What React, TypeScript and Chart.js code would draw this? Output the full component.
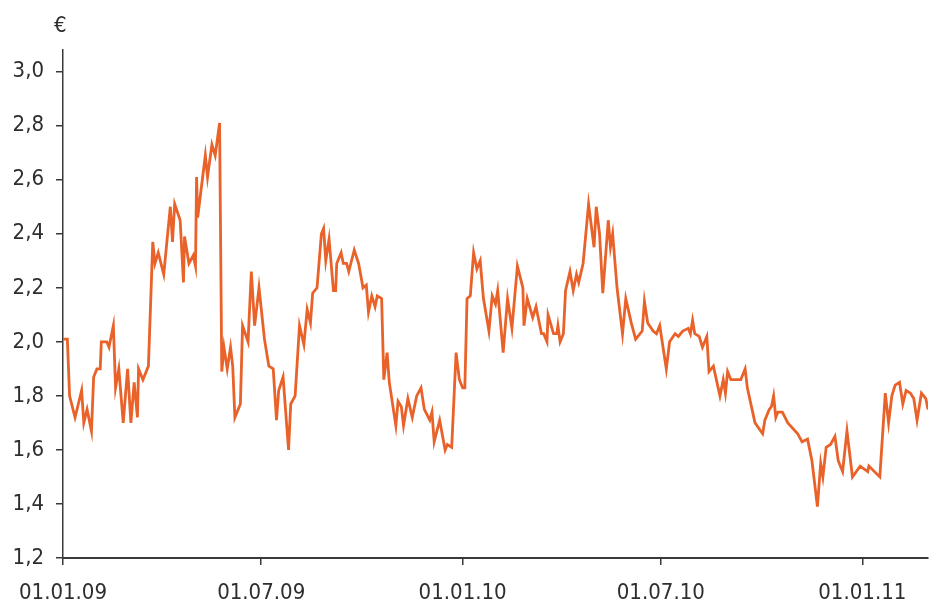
import React, { useEffect, useRef } from "react";
import { Chart, registerables } from "chart.js";

Chart.register(...registerables);

// Days since 01.01.09
const dayOffsets = [
  0, 4, 6, 11, 17, 19, 22, 26, 28, 31, 34, 35, 40, 42, 46, 48, 51, 55, 59, 62,
  65, 68, 69, 73, 78, 82, 84, 87, 92, 98, 100, 102, 107, 110, 111, 115, 119, 121, 122, 123,
  130, 132, 136, 139, 143, 145, 147, 150, 153, 155, 157, 162, 164, 169, 172, 175, 179, 184, 188, 192,
  195, 197, 201, 206, 208, 212, 216, 220, 223, 226, 228, 232, 236, 238, 240, 243, 247, 249, 250, 254,
  256, 259, 261, 266, 270, 274, 277, 279, 282, 285, 287, 291, 293, 296, 298, 304, 306, 309, 311, 315,
  319, 323, 327, 330, 335, 337, 339, 344, 349, 351, 355, 359, 362, 365, 367, 369, 372, 375, 378, 381,
  384, 389, 392, 395, 397, 402, 406, 410, 415, 420, 421, 424, 429, 432, 437, 439, 442, 443, 448, 451,
  452, 454, 457, 459, 463, 466, 469, 471, 475, 480, 485, 487, 490, 493, 498, 500, 502, 506, 511, 514,
  519, 523, 529, 531, 534, 539, 542, 545, 551, 554, 559, 562, 566, 571, 573, 575, 577, 581, 584, 588,
  590, 594, 600, 603, 605, 607, 610, 619, 623, 625, 632, 639, 641, 645, 647, 649, 651, 653, 657, 662,
  671, 675, 680, 684, 689, 692, 694, 697, 701, 705, 708, 712, 716, 721, 728, 735, 736, 746, 751, 754,
  757, 760, 764, 767, 770, 774, 777, 780, 784, 788, 790,
];

const prices = [
  2.01, 2.01, 1.8, 1.72, 1.82, 1.7, 1.75, 1.67, 1.87, 1.9, 1.9, 2.0, 2.0, 1.98, 2.06, 1.83, 1.9, 1.7, 1.9, 1.7,
  1.85, 1.72, 1.9, 1.86, 1.91, 2.37, 2.29, 2.33, 2.25, 2.5, 2.37, 2.51, 2.45, 2.22, 2.39, 2.29, 2.32, 2.28, 2.61, 2.46,
  2.69, 2.61, 2.73, 2.69, 2.81, 1.89, 1.98, 1.9, 1.98, 1.91, 1.72, 1.77, 2.06, 2.0, 2.26, 2.06, 2.2, 2.01, 1.91, 1.9,
  1.71, 1.82, 1.87, 1.6, 1.77, 1.8, 2.06, 1.99, 2.12, 2.07, 2.18, 2.2, 2.4, 2.42, 2.3, 2.38, 2.19, 2.19, 2.29, 2.33,
  2.29, 2.29, 2.26, 2.34, 2.29, 2.2, 2.21, 2.11, 2.17, 2.13, 2.17, 2.16, 1.86, 1.96, 1.85, 1.69, 1.78, 1.76, 1.69, 1.79,
  1.72, 1.8, 1.83, 1.75, 1.71, 1.74, 1.63, 1.71, 1.6, 1.62, 1.61, 1.96, 1.86, 1.83, 1.83, 2.16, 2.17, 2.33, 2.27, 2.3,
  2.16, 2.04, 2.17, 2.14, 2.19, 1.96, 2.16, 2.05, 2.28, 2.2, 2.06, 2.16, 2.09, 2.13, 2.03, 2.03, 2.0, 2.1, 2.03, 2.03,
  2.06, 2.0, 2.03, 2.19, 2.26, 2.19, 2.25, 2.22, 2.29, 2.51, 2.35, 2.5, 2.4, 2.18, 2.45, 2.35, 2.4, 2.2, 2.03, 2.16,
  2.07, 2.01, 2.04, 2.15, 2.07, 2.04, 2.03, 2.06, 1.9, 2.0, 2.03, 2.02, 2.04, 2.05, 2.03, 2.08, 2.03, 2.02, 1.98, 2.02,
  1.89, 1.91, 1.8, 1.86, 1.81, 1.89, 1.86, 1.86, 1.9, 1.83, 1.7, 1.66, 1.71, 1.75, 1.76, 1.8, 1.72, 1.74, 1.74, 1.7,
  1.66, 1.63, 1.64, 1.56, 1.39, 1.55, 1.5, 1.61, 1.62, 1.65, 1.56, 1.52, 1.67, 1.5, 1.54, 1.52, 1.54, 1.5, 1.81, 1.7,
  1.8, 1.84, 1.85, 1.77, 1.82, 1.81, 1.79, 1.71, 1.81, 1.79, 1.75,
];

const tickDays = [0, 181, 365, 546, 730];
const tickLabels = ["01.01.09", "01.07.09", "01.01.10", "01.07.10", "01.01.11"];
const yTicks = [1.2, 1.4, 1.6, 1.8, 2.0, 2.2, 2.4, 2.6, 2.8, 3.0];
const unitLabel = "€";

const FONT = "'DejaVu Sans Condensed', 'DejaVu Sans', sans-serif";
const TEXT = "#2e2e2e";
const AXIS = "#3a3a3a";
const LINE = "#E8622A";

export default function App() {
  const ref = useRef<HTMLCanvasElement | null>(null);

  useEffect(() => {
    if (!ref.current) return;
    const chart = new Chart(ref.current, {
      type: "line",
      data: {
        datasets: [
          {
            data: dayOffsets.map((d, i) => ({ x: d, y: prices[i] })),
            borderColor: LINE,
            borderWidth: 2.8,
            pointRadius: 0,
            tension: 0,
            fill: false,
          },
        ],
      },
      options: {
        animation: false,
        responsive: false,
        devicePixelRatio: 1,
        layout: { padding: { top: 50, right: 2, left: 0, bottom: 0 } },
        plugins: { legend: { display: false }, tooltip: { enabled: false } },
        scales: {
          x: {
            type: "linear",
            min: 0,
            max: 790,
            afterBuildTicks: (s: any) => {
              s.ticks = tickDays.map((v) => ({ value: v }));
            },
            afterFit: (s: any) => {
              s.height = 46;
            },
            ticks: {
              autoSkip: false,
              maxRotation: 0,
              padding: 15,
              color: TEXT,
              font: { family: FONT, size: 22 },
              callback: (v: any) => {
                const i = tickDays.indexOf(Number(v));
                return i >= 0 ? tickLabels[i] : "";
              },
            },
            grid: {
              drawOnChartArea: false,
              drawTicks: true,
              tickLength: 7,
              color: AXIS,
              lineWidth: 1.5,
            },
            border: { display: true, color: AXIS, width: 2 },
          },
          y: {
            type: "linear",
            min: 1.2,
            max: 3.08,
            afterBuildTicks: (s: any) => {
              s.ticks = yTicks.map((v) => ({ value: v }));
            },
            afterFit: (s: any) => {
              s.width = 63;
            },
            ticks: {
              padding: 12,
              color: TEXT,
              font: { family: FONT, size: 22 },
              callback: (v: any) => Number(v).toFixed(1).replace(".", ","),
            },
            grid: {
              drawOnChartArea: false,
              drawTicks: true,
              tickLength: 7,
              color: AXIS,
              lineWidth: 1.5,
            },
            border: { display: true, color: AXIS, width: 1.5 },
          },
        },
      },
    });
    return () => chart.destroy();
  }, []);

  return (
    <div
      style={{
        position: "fixed",
        left: 0,
        top: 0,
        width: 930,
        height: 604,
        background: "#fff",
        overflow: "hidden",
      }}
    >
      <canvas ref={ref} width={930} height={604} style={{ display: "block" }} />
      <span
        style={{
          position: "absolute",
          left: 54,
          top: 13,
          fontFamily: FONT,
          fontSize: 22,
          color: TEXT,
          lineHeight: "24px",
        }}
      >
        {unitLabel}
      </span>
    </div>
  );
}
